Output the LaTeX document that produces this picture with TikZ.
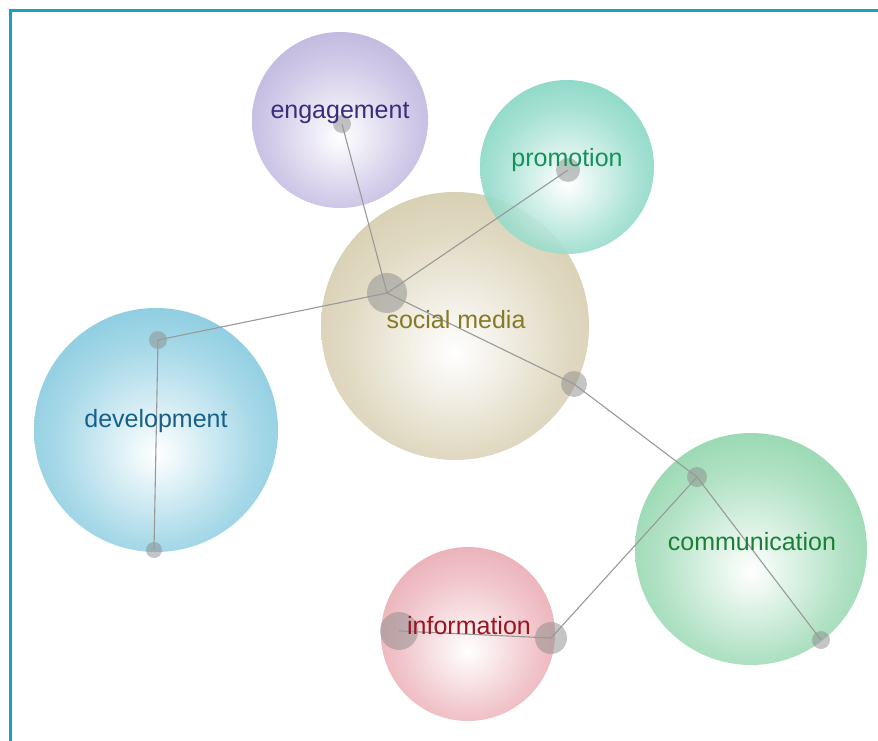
\documentclass[tikz,border=0pt]{standalone}
\usepackage{fontspec}
\setmainfont{Liberation Sans}
\definecolor{framecol}{HTML}{1A9FBF}
\definecolor{engcol}{HTML}{A294D0}
\definecolor{procol}{HTML}{52C5AA}
\definecolor{soccol}{HTML}{C3B689}
\definecolor{devcol}{HTML}{50B3D1}
\definecolor{comcol}{HTML}{62C489}
\definecolor{infcol}{HTML}{E18893}
\definecolor{engtxt}{HTML}{3A2D7E}
\definecolor{protxt}{HTML}{14925A}
\definecolor{soctxt}{HTML}{857A25}
\definecolor{devtxt}{HTML}{17608A}
\definecolor{comtxt}{HTML}{1A8038}
\definecolor{inftxt}{HTML}{9B1420}
\colorlet{bubblehue}{gray}
\pgfdeclareradialshading[bubblehue]{bubble}{\pgfpoint{0bp}{-5bp}}{color(0bp)=(white); color(3bp)=(white!92!bubblehue); color(20bp)=(bubblehue!55!white); color(36bp)=(bubblehue!88!white); color(48bp)=(bubblehue); color(60bp)=(bubblehue!95!black)}
\tikzset{
  hue/.code={\colorlet{bubblehue}{#1}},
  bubbleball/.style={circle,inner sep=0pt,minimum size=#1,draw=none,shading=bubble,fill opacity=0.9},
  knot/.style={circle,inner sep=0pt,minimum size=#1,draw=none,fill=gray!90,fill opacity=0.5},
  link/.style={draw=gray!80,line width=1.1pt},
  word/.style={font=\fontsize{25}{30}\selectfont,inner sep=0pt}
}
\begin{document}
\begin{tikzpicture}[x=1pt,y=-1pt]
\useasboundingbox (0,0) rectangle (878,741);
\draw[framecol,line width=3pt] (10,741) -- (10,11) -- (878,11);
\node (soc) at (455,326) [hue=soccol,bubbleball=268pt] {};
\node (eng) at (340,120) [hue=engcol,bubbleball=176pt] {};
\node (pro) at (567,167) [hue=procol,bubbleball=174pt] {};
\node (dev) at (156,430) [hue=devcol,bubbleball=244pt] {};
\node (com) at (751,549) [hue=comcol,bubbleball=232pt] {};
\node (inf) at (468,634) [hue=infcol,bubbleball=174pt] {};
\node (dSoc) at (387,293) [knot=40pt] {};
\node (dEng) at (342,124) [knot=18pt] {};
\node (dPro) at (568,170) [knot=24pt] {};
\node (dSocB) at (574,384) [knot=26pt] {};
\node (dDevT) at (158,340) [knot=18pt] {};
\node (dDevB) at (154,550) [knot=16pt] {};
\node (dComT) at (697,477) [knot=20pt] {};
\node (dComB) at (821,640) [knot=18pt] {};
\node (dInfL) at (399,631) [knot=38pt] {};
\node (dInfR) at (551,638) [knot=32pt] {};
\draw[link] (dEng.center) -- (dSoc.center);
\draw[link] (dPro.center) -- (dSoc.center);
\draw[link] (dDevT.center) -- (dSoc.center);
\draw[link] (dDevT.center) -- (dDevB.center);
\draw[link] (dSoc.center) -- (dSocB.center) -- (dComT.center) -- (dComB.center);
\draw[link] (dComT.center) -- (dInfR.center) -- (dInfL.center);
\node (engTxt) at (340,113) [word,text=engtxt] {engagement};
\node (proTxt) at (567,160) [word,text=protxt] {promotion};
\node (socTxt) at (456,320) [word,text=soctxt] {social media};
\node (devTxt) at (156,421) [word,text=devtxt] {development};
\node (comTxt) at (752,542) [word,text=comtxt] {communication};
\node (infTxt) at (469,626) [word,text=inftxt] {information};
\end{tikzpicture}
\end{document}
